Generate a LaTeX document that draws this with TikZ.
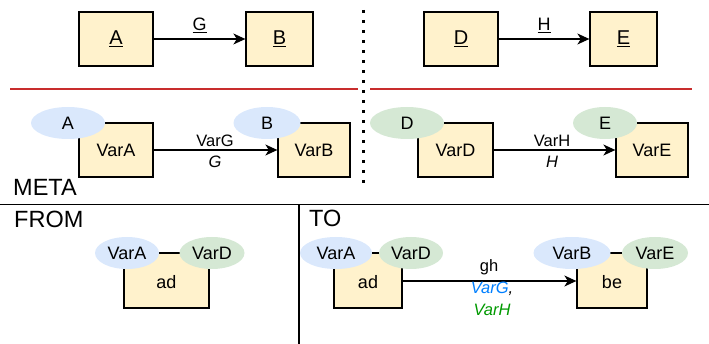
\documentclass[tikz,border=0pt]{standalone}
\usepackage{fontspec}
\setmainfont{Liberation Sans}
\usetikzlibrary{arrows.meta,shapes.geometric}
\definecolor{boxfill}{HTML}{FFF2CC}
\definecolor{bluefill}{HTML}{DAE8FC}
\definecolor{greenfill}{HTML}{D5E8D4}
\definecolor{redline}{RGB}{200,45,45}
\definecolor{bluetxt}{HTML}{007FFF}
\definecolor{greentxt}{HTML}{009900}
\begin{document}
\begin{tikzpicture}[x=1pt,y=-1pt,
  box/.style={draw=black, line width=1.3pt, fill=boxfill, minimum height=54pt, inner sep=0pt, font=\fontsize{18}{21}\selectfont},
  topbox/.style={box, font=\fontsize{20}{24}\selectfont},
  bell/.style={ellipse, fill=bluefill, draw=none, minimum height=32pt, inner sep=0pt, font=\fontsize{18}{21}\selectfont},
  gell/.style={bell, fill=greenfill},
  arr/.style={line width=1.2pt, -{Stealth[length=12pt,width=11pt,inset=3.5pt]}},
  elab/.style={inner sep=0pt, font=\fontsize{16.5}{19}\selectfont},
  toplab/.style={inner sep=0pt, font=\fontsize{18}{21}\selectfont},
  title/.style={inner sep=0pt, anchor=base west, font=\fontsize{23.5}{27}\selectfont}]
\useasboundingbox (0,0) rectangle (709,344);
% top row
\node[topbox, minimum width=74pt] (A) at (116,39) {\underline{A}};
\node[topbox, minimum width=67pt] (B) at (279.5,39) {\underline{B}};
\node[topbox, minimum width=74pt] (D) at (461,39) {\underline{D}};
\node[topbox, minimum width=67pt] (E) at (623.5,39) {\underline{E}};
\draw[arr] (A) -- (B) node[toplab, midway, above=6pt] (lG) {\underline{G}};
\draw[arr] (D) -- (E) node[toplab, midway, above=6pt] (lH) {\underline{H}};
% separators
\coordinate (r1) at (10,89); \coordinate (r2) at (358,89);
\coordinate (r3) at (370,89); \coordinate (r4) at (692,89);
\draw[redline, line width=1.8pt] (r1) -- (r2);
\draw[redline, line width=1.8pt] (r3) -- (r4);
\coordinate (d1) at (363,10); \coordinate (d2) at (363,190);
\draw[line width=3pt, dash pattern=on 3pt off 7pt] (d1) -- (d2);
% meta row
\node[box, minimum width=74pt] (VarA) at (116,150) {VarA};
\node[box, minimum width=72pt] (VarB) at (314,150) {VarB};
\node[box, minimum width=75pt] (VarD) at (455.5,150) {VarD};
\node[box, minimum width=72pt] (VarE) at (652,150) {VarE};
\node[bell, minimum width=74pt] (eA) at (68,123) {A};
\node[bell, minimum width=67pt] (eB) at (267,123) {B};
\node[gell, minimum width=74pt] (eD) at (407,123) {D};
\node[gell, minimum width=64pt] (eE) at (605,123) {E};
\draw[arr] (VarA) -- (VarB);
\draw[arr] (VarD) -- (VarE);
\node[elab] (lVarG) at (215,141) {VarG};
\node[elab] (lGi) at (215,162) {\itshape G};
\node[elab] (lVarH) at (552,141) {VarH};
\node[elab] (lHi) at (552,162) {\itshape H};
\node[title] (meta) at (13,196) {META};
% lower frame
\coordinate (h1) at (0,204.5); \coordinate (h2) at (709,204.5);
\coordinate (v1) at (299,204.5); \coordinate (v2) at (299,344);
\draw[line width=1.3pt] (h1) -- (h2);
\draw[line width=1.3pt] (v1) -- (v2);
\node[title] (from) at (14,228) {FROM};
\node[title] (to) at (309,227) {TO};
% FROM
\node[box, minimum width=85pt, minimum height=55pt] (ad1) at (166.5,280.5) {};
\node[inner sep=0pt, font=\fontsize{18}{21}\selectfont] at (166.5,282) {ad};
\node[bell, minimum width=64pt] (fA) at (127,253) {VarA};
\node[gell, minimum width=65pt] (fD) at (212,253) {VarD};
% TO
\node[box, minimum width=68pt, minimum height=55pt] (ad2) at (368,280.5) {};
\node[inner sep=0pt, font=\fontsize{18}{21}\selectfont] at (368,282) {ad};
\node[box, minimum width=70pt, minimum height=55pt] (be) at (612,280.5) {};
\node[inner sep=0pt, font=\fontsize{18}{21}\selectfont] at (612,282) {be};
\node[bell, minimum width=72pt] (tA) at (336,253) {VarA};
\node[gell, minimum width=64pt] (tD) at (411,253) {VarD};
\node[bell, minimum width=77pt] (tB) at (572,253) {VarB};
\node[gell, minimum width=66pt] (tE) at (655,253) {VarE};
\draw[arr] (ad2.east |- 0,281) -- (be.west |- 0,281);
\node[elab] (lgh) at (489,267) {gh};
\node[elab, text=bluetxt] (lvg) at (492,288.5) {\itshape VarG\textcolor{black}{,}};
\node[elab, text=greentxt] (lvh) at (492,310) {\itshape VarH};
\end{tikzpicture}
\end{document}
